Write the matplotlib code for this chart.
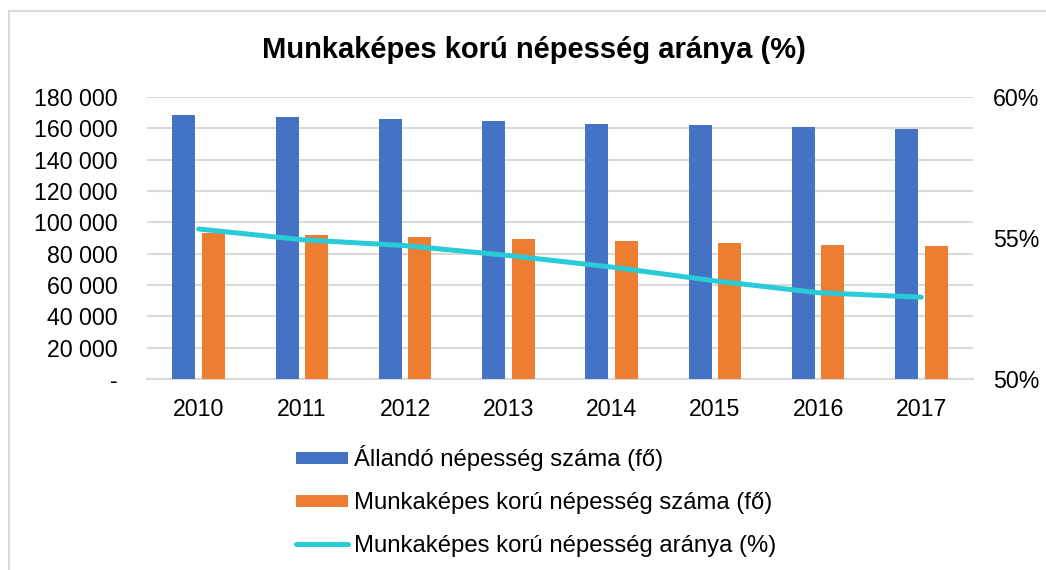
import matplotlib.pyplot as plt
from matplotlib.lines import Line2D
from matplotlib.patches import Rectangle
from matplotlib.ticker import FuncFormatter
import numpy as np

# --- data ---
years = ["2010", "2011", "2012", "2013", "2014", "2015", "2016", "2017"]
allando = [168500, 167200, 165800, 164700, 163000, 161900, 160850, 159800]
munkakepes = [93400, 91700, 90800, 89400, 88100, 86600, 85300, 84700]
arany = [55.32, 54.94, 54.73, 54.38, 53.97, 53.48, 53.06, 52.90]

blue = "#4472C4"
orange = "#ED7D31"
cyan = "#29CCD6"
grid_col = "#D9D9D9"

plt.rcParams["font.family"] = ["Liberation Sans", "DejaVu Sans"]

fig = plt.figure(figsize=(10.46, 5.70), dpi=100)
ax = fig.add_axes([147 / 1046, 1 - 379 / 570, 826 / 1046, 282 / 570])

x = np.arange(len(years))
w = 0.223
off = 0.143
ax.bar(x - off, allando, width=w, color=blue, zorder=3)
ax.bar(x + off, munkakepes, width=w, color=orange, zorder=3)

ax.set_xlim(-0.5, len(years) - 0.5)
ax.set_ylim(0, 180000)
ax.set_yticks(np.arange(0, 180001, 20000))
ax.yaxis.set_major_formatter(
    FuncFormatter(lambda v, p: "-" if v == 0 else f"{int(v):,}".replace(",", " "))
)
ax.set_xticks(x)
ax.set_xticklabels(years)
ax.grid(axis="y", color=grid_col, linewidth=1.5, zorder=0)
ax.set_axisbelow(True)
for s in ["top", "right", "left"]:
    ax.spines[s].set_visible(False)
ax.spines["bottom"].set_color(grid_col)
ax.spines["bottom"].set_linewidth(1.5)
ax.tick_params(axis="y", length=0, pad=21, labelsize=16.7)
ax.tick_params(axis="x", length=0, pad=13.5, labelsize=16.7)

# --- secondary axis with the ratio line ---
ax2 = ax.twinx()
ax2.plot(x, arany, color=cyan, linewidth=3.6, solid_capstyle="round", zorder=4)
ax2.set_ylim(50, 60)
ax2.set_yticks([50, 55, 60])
ax2.yaxis.set_major_formatter(FuncFormatter(lambda v, p: f"{int(v)}%"))
ax2.tick_params(axis="y", length=0, pad=14.4, labelsize=16.7)
for s in ax2.spines.values():
    s.set_visible(False)

fig.text(534 / 1046, 1 - 50 / 570, "Munkaképes korú népesség aránya (%)",
         ha="center", va="center", fontsize=21, fontweight="bold")

handles = [
    Line2D([], [], color=blue, linewidth=8.6, solid_capstyle="butt"),
    Line2D([], [], color=orange, linewidth=8.6, solid_capstyle="butt"),
    Line2D([], [], color=cyan, linewidth=3.6, solid_capstyle="round"),
]
labels = [
    "Állandó népesség száma (fő)",
    "Munkaképes korú népesség száma (fő)",
    "Munkaképes korú népesség aránya (%)",
]
fig.legend(handles, labels, loc="upper left",
           bbox_to_anchor=(296 / 1046, 1 - 445 / 570),
           frameon=False, fontsize=17.2, handlelength=2.18,
           handletextpad=0.25, labelspacing=0.88, borderpad=0, borderaxespad=0)

# light frame like the source screenshot
fig.patches.append(Rectangle((9 / 1046, -0.1), 1.2, 1 - 11 / 570 + 0.1,
                             transform=fig.transFigure, fill=False,
                             edgecolor=grid_col, linewidth=1.5))

fig.savefig("out.png", dpi=100)
